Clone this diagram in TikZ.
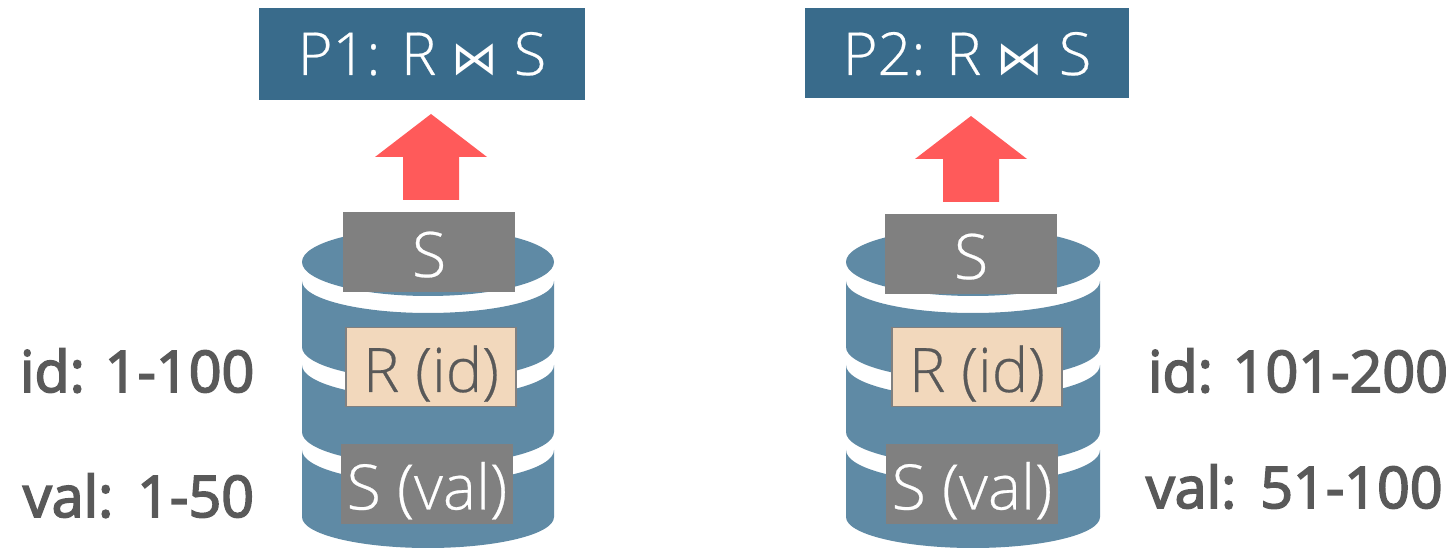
\documentclass[tikz,border=0pt]{standalone}
\usepackage{fontspec}
\setmainfont{Open Sans}
\newfontfamily\lightf{Open Sans Light}[FakeBold=0.4]
\newfontfamily\semif{Open Sans}[FakeBold=3]
\newfontfamily\symf{DejaVu Sans}
\definecolor{cyl}{HTML}{5F8AA5}
\definecolor{head}{HTML}{396B8B}
\definecolor{arr}{HTML}{FF5A5A}
\definecolor{gbox}{HTML}{808080}
\definecolor{tanc}{HTML}{F2D8BC}
\definecolor{txt}{HTML}{595959}
\tikzset{
 every node/.style={inner sep=0pt,outer sep=0pt},
 headbox/.style={fill=head,text=white,font=\fontsize{44.5}{44.5}\selectfont\lightf,minimum height=#1},
 graybox/.style={fill=gbox,text=white,font=\fontsize{47}{47}\selectfont\lightf,minimum width=129pt,minimum height=60pt},
 tanbox/.style={fill=tanc,draw=gbox,line width=1.2pt,text=txt,font=\fontsize{46}{46}\selectfont\lightf,minimum width=127.5pt,minimum height=59.5pt},
 rangelabel/.style={text=txt,font=\fontsize{43}{43}\selectfont\semif,anchor=base west},
 cylpart/.style={fill=cyl,draw=none},
 uparrow/.style={fill=arr,draw=none},
}
\newcommand{\bowt}{{\symf\fontsize{35}{35}\selectfont\char"22C8}}
\newcommand{\low}[2][18.75pt]{\raisebox{-#1}[0pt][0pt]{#2}}
\newcommand{\dbcyl}[2]{% left x, half width
 \fill[cylpart] (#1+#2,262) ellipse[x radius=#2,y radius=34];
 \fill[cylpart] (#1,281) arc[start angle=180,end angle=0,x radius=#2,y radius=32] -- (#1+2*#2,347) arc[start angle=0,end angle=180,x radius=#2,y radius=33] -- cycle;
 \fill[cylpart] (#1,365) arc[start angle=180,end angle=0,x radius=#2,y radius=33] -- (#1+2*#2,432) arc[start angle=0,end angle=180,x radius=#2,y radius=33] -- cycle;
 \fill[cylpart] (#1,450) arc[start angle=180,end angle=0,x radius=#2,y radius=33] -- (#1+2*#2,517) arc[start angle=0,end angle=180,x radius=#2,y radius=31] -- cycle;
}
\newcommand{\uparr}[2]{% tip x, tip y
 \fill[uparrow] (#1,#2) -- (#1+56,#2+43) -- (#1+28,#2+43) -- (#1+28,#2+86) -- (#1-28,#2+86) -- (#1-28,#2+43) -- (#1-56,#2+43) -- cycle;
}
\begin{document}
\begin{tikzpicture}[x=0.75pt,y=-0.75pt]
\useasboundingbox (0,0) rectangle (1453,548);
\dbcyl{302}{126}
\dbcyl{846}{127}
\uparr{431}{114}
\uparr{971}{116}
\node[headbox=69pt,minimum width=244.5pt] (p1) at (422,54) {\low[15.75pt]{P1: R \bowt{} S}};
\node[headbox=67.5pt,minimum width=243pt] (p2) at (967,53) {\low[16.5pt]{P2: R \bowt{} S}};
\node[graybox] (s1) at (429,252) {\low{S}};
\node[graybox] (s2) at (971,254) {\low{S}};
\node[tanbox] (r1) at (431,367) {\low{R (id)}};
\node[tanbox] (r2) at (977,367) {\low{R (id)}};
\node[graybox] (v1) at (427,484.5) {\low{S (val)}};
\node[graybox] (v2) at (972,484.5) {\low{S (val)}};
\node[rangelabel] (l1) at (20,392) {id: 1-100};
\node[rangelabel] (l2) at (23,517) {val:\kern3pt{} 1-50};
\node[rangelabel] (l3) at (1148,392) {id: 101-200};
\node[rangelabel] (l4) at (1146,508) {val:\kern3pt{} 51-100};
\end{tikzpicture}
\end{document}
